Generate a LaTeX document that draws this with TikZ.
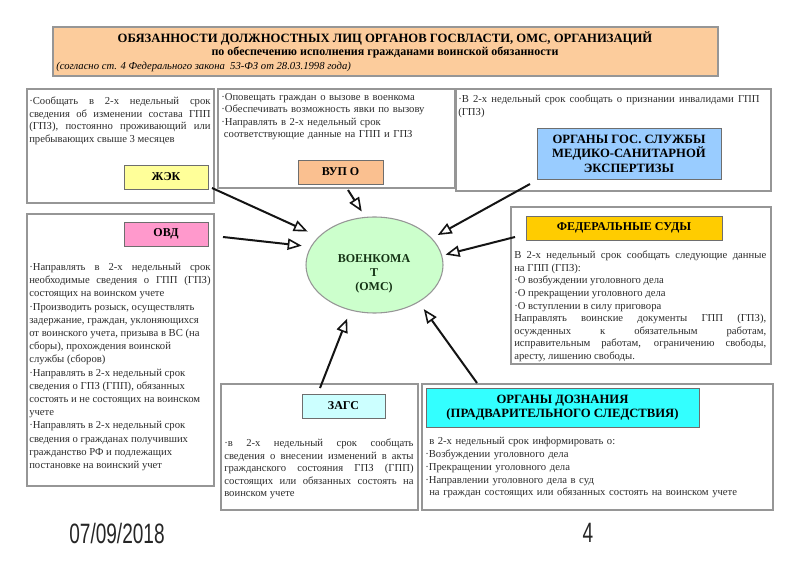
\documentclass[tikz,border=0pt]{standalone}
\usepackage{fontspec}
\setmainfont{Liberation Serif}
\newfontfamily\footfont{Liberation Sans}
\usetikzlibrary{arrows.meta,shapes.geometric,fit}
\definecolor{titlebg}{RGB}{252,204,156}
\definecolor{jekc}{RGB}{255,255,153}
\definecolor{vupc}{RGB}{250,192,144}
\definecolor{msec}{RGB}{153,204,255}
\definecolor{ovdc}{RGB}{255,153,204}
\definecolor{fedc}{RGB}{255,204,0}
\definecolor{zagsc}{RGB}{204,255,255}
\definecolor{doznc}{RGB}{51,255,255}
\definecolor{ellc}{RGB}{204,255,204}
\definecolor{ellt}{RGB}{20,50,20}
\definecolor{boxline}{RGB}{150,150,150}
\definecolor{lblline}{RGB}{110,110,110}
\definecolor{txtc}{RGB}{45,45,45}
\definecolor{arrc}{RGB}{20,20,20}
\begin{document}
\begin{tikzpicture}[x=0.75pt,y=-0.75pt,
  box/.style={draw=boxline, line width=0.9pt, fill=white, inner sep=0pt},
  lbl/.style={draw=lblline, line width=0.7pt, inner sep=0pt, align=center, text=black,
    font=\bfseries\fontsize{9}{10}\selectfont},
  txt/.style={anchor=north west, inner sep=0pt, text=txtc, align=justify,
    font=\fontsize{8}{9.3}\selectfont},
  arr/.style={draw=arrc, line width=1.5pt,
    -{Triangle[open, length=10.5pt, width=8.5pt, line width=1.2pt]}}
]
\useasboundingbox (0,0) rectangle (800,566);
\fill[white] (0,0) rectangle (800,566);

% title
\node[box, fill=titlebg, fit={(53,27)(718,76)}] (title) {};
\node[inner sep=0pt, font=\bfseries\fontsize{9.5}{11}\selectfont] (t1) at (385,38)
  {ОБЯЗАННОСТИ ДОЛЖНОСТНЫХ ЛИЦ ОРГАНОВ ГОСВЛАСТИ, ОМС, ОРГАНИЗАЦИЙ};
\node[inner sep=0pt, font=\bfseries\fontsize{9}{10}\selectfont] (t2) at (385,52)
  {по обеспечению исполнения гражданами воинской обязанности};
\node[inner sep=0pt, anchor=west, font=\itshape\fontsize{8}{10}\selectfont] (t3) at (56,67)
  {(согласно ст. 4 Федерального закона \ 53-ФЗ от 28.03.1998 года)};

% boxes
\node[box, fit={(27,89)(214,203)}] (jekbox) {};
\node[box, fit={(218,89)(455,188)}] (vupbox) {};
\node[box, fit={(456,89)(771,191)}] (msebox) {};
\node[box, fit={(27,214)(214,486)}] (ovdbox) {};
\node[box, fit={(511,207)(771,364)}] (fedbox) {};
\node[box, fit={(221,384)(418,510)}] (zagsbox) {};
\node[box, fit={(422,384)(773,510)}] (doznbox) {};

% labels
\node[lbl, fill=jekc, minimum width=63pt, minimum height=18pt] (jek) at (166,177) {ЖЭК};
\node[lbl, fill=vupc, minimum width=63.75pt, minimum height=18pt] (vup) at (340.5,172) {ВУП О};
\node[lbl, fill=msec, minimum width=138pt, minimum height=38.25pt,
  font=\bfseries\fontsize{9.5}{10.8}\selectfont] (mse) at (629,153.5)
  {ОРГАНЫ ГОС. СЛУЖБЫ\\МЕДИКО-САНИТАРНОЙ\\ЭКСПЕРТИЗЫ};
\node[lbl, fill=ovdc, minimum width=63pt, minimum height=18pt] (ovd) at (166,234) {ОВД};
\node[lbl, fill=fedc, minimum width=147pt, minimum height=18pt] (fed) at (624,228) {ФЕДЕРАЛЬНЫЕ СУДЫ};
\node[lbl, fill=zagsc, minimum width=62.25pt, minimum height=18pt] (zags) at (343.5,406) {ЗАГС};
\node[lbl, fill=doznc, minimum width=204.75pt, minimum height=29.25pt,
  font=\bfseries\fontsize{9.5}{11}\selectfont] (dozn) at (562.5,407.5)
  {ОРГАНЫ ДОЗНАНИЯ\\(ПРАДВАРИТЕЛЬНОГО СЛЕДСТВИЯ)};

% texts
\node[txt, text width=136pt] (jektxt) at (29,97)
  {·Сообщать в 2-х недельный срок\linebreak сведения об изменении состава ГПП\linebreak
   (ГПЗ), постоянно проживающий или\linebreak пребывающих свыше 3 месяцев};
\node[txt, text width=174pt, align=left] (vuptxt) at (221,93)
  {·Оповещать граждан о вызове в военкома\\·Обеспечивать возможность явки по вызову\\
   ·Направлять в 2-х недельный срок\\\hspace*{2pt}соответствующие данные на ГПП и ГПЗ};
\node[txt, text width=226pt] (msetxt) at (458,95)
  {·В 2-х недельный срок сообщать о признании инвалидами ГПП\linebreak (ГПЗ)};
\node[txt, text width=136pt, font=\fontsize{8}{9.9}\selectfont] (ovdtxt) at (29,263)
  {·Направлять в 2-х недельный срок\linebreak необходимые сведения о ГПП (ГПЗ)\linebreak
   состоящих на воинском учете\newline ·Производить розыск, осуществлять\newline
   задержание, граждан, уклоняющихся\newline от воинского учета, призыва в ВС (на\newline
   сборы), прохождения воинской\newline службы (сборов)\newline
   ·Направлять в 2-х недельный срок\newline сведения о ГПЗ (ГПП), обязанных\newline
   состоять и не состоящих на воинском\newline учете\newline
   ·Направлять в 2-х недельный срок\newline сведения о гражданах получивших\newline
   гражданство РФ и подлежащих\newline постановке на воинский учет};
\node[txt, text width=189pt, font=\fontsize{8}{9.4}\selectfont] (fedtxt) at (514,251)
  {В\enspace 2-х недельный срок сообщать следующие данные\linebreak на ГПП (ГПЗ):\newline
   ·О возбуждении уголовного дела\newline ·О прекращении уголовного дела\newline
   ·О вступлении в силу приговора\newline
   Направлять воинские документы ГПП (ГПЗ),\linebreak осужденных к обязательным работам,\linebreak
   исправительным работам, ограничению свободы,\linebreak аресту, лишению свободы.};
\node[txt, text width=142pt] (zagstxt) at (224,439)
  {·в 2-х недельный срок сообщать\linebreak сведения о внесении изменений в акты\linebreak
   гражданского состояния ГПЗ (ГПП)\linebreak состоящих или обязанных состоять на\linebreak
   воинском учете};
\node[txt, text width=259pt, align=left, font=\fontsize{8}{9.6}\selectfont] (dozntxt) at (425,437)
  {\hspace*{3pt}в 2-х недельный срок информировать о:\\·Возбуждении уголовного дела\\
   ·Прекращении уголовного дела\\·Направлении уголовного дела в суд\\
   \hspace*{3pt}на граждан состоящих или обязанных состоять на воинском учете};

% centre
\node[ellipse, draw=boxline, line width=0.8pt, fill=ellc, minimum width=102.75pt,
  minimum height=72pt, inner sep=0pt] (voen) at (374.5,265) {};
\node[inner sep=0pt, align=center, text=ellt, font=\bfseries\fontsize{9}{10.5}\selectfont]
  (voentxt) at (374,274) {ВОЕНКОМА\\Т\\(ОМС)};

% arrows
\coordinate (a1) at (212,188);
\coordinate (a2) at (348,190);
\coordinate (a3) at (223,237);
\coordinate (a4) at (530,184);
\coordinate (a5) at (515,237);
\coordinate (a6) at (320,388);
\coordinate (a7) at (477,383);
\draw[arr, shorten >=9pt] (a1) -- (voen.153);
\draw[arr, shorten >=4.8pt] (a2) -- (voen.101);
\draw[arr, shorten >=6.7pt] (a3) -- (voen.164);
\draw[arr, shorten >=4.9pt] (a4) -- (voen.25);
\draw[arr, shorten >=2.6pt] (a5) -- (voen.8);
\draw[arr, shorten >=6.5pt] (a6) -- (voen.242);
\draw[arr, shorten >=6.4pt] (a7) -- (voen.320);

% footer
\node[inner sep=0pt, xscale=0.68, font=\footfont\fontsize{21}{24}\selectfont, text=black!85] (date) at (117,533) {07/09/2018};
\node[inner sep=0pt, xscale=0.68, font=\footfont\fontsize{21}{24}\selectfont, text=black!85] (page) at (588,533) {4};
\end{tikzpicture}
\end{document}
